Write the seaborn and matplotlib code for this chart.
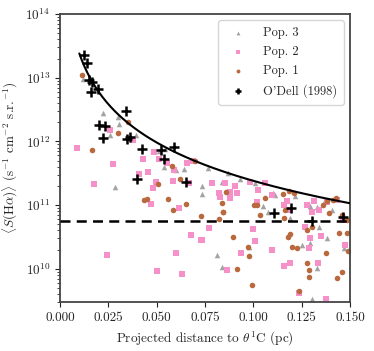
import numpy as np
import pandas as pd
import matplotlib
matplotlib.use("Agg")
import matplotlib.pyplot as plt
import seaborn as sns

# --- data (x in pc, S(Halpha) in s^-1 cm^-2 sr^-1) ---
pop3_x = [0.0117, 0.0221, 0.0259, 0.0300, 0.0305, 0.0286, 0.0393, 0.0538, 0.0598, 0.0514,
          0.0767, 0.0733, 0.0733, 0.0871, 0.0931, 0.0836, 0.1052, 0.1078, 0.1103, 0.1112,
          0.1190, 0.1216, 0.1293, 0.1328, 0.1371, 0.1405, 0.1469, 0.1340, 0.1379, 0.1293,
          0.1328, 0.0979, 0.0814, 0.0836, 0.1302, 0.1253, 0.1009, 0.0640, 0.0545]
pop3_y = [9.4e12, 2.8e12, 1.24e12, 2.4e12, 1.87e12, 1.94e11, 1.26e12, 4.0e11, 3.55e11, 7.1e11,
          3.77e11, 1.99e11, 1.47e11, 3.14e11, 2.53e11, 2.32e11, 9.7e10, 7.9e10, 1.52e11, 1.44e11,
          6.2e10, 1.38e11, 9.7e10, 9.4e10, 1.2e11, 8.3e10, 2.1e10, 4.6e10, 3.0e10, 2.5e10,
          1.01e10, 2.2e10, 1.64e10, 1.07e10, 3.4e9, 2.35e10, 2.2e11, 3.7e11, 7.5e11]

pop2_x = [0.0086, 0.0178, 0.0241, 0.0272, 0.0260, 0.0378, 0.0409, 0.0431, 0.0457, 0.0471,
          0.0483, 0.0486, 0.0495, 0.0500, 0.0512, 0.0555, 0.0585, 0.0588, 0.0598, 0.0616,
          0.0633, 0.0659, 0.0669, 0.0678, 0.0731, 0.0690, 0.0784, 0.0824, 0.0828, 0.0853,
          0.0879, 0.0881, 0.0905, 0.0914, 0.0983, 0.1060, 0.1017, 0.1095, 0.1159, 0.1172,
          0.1190, 0.1276, 0.1314, 0.1302, 0.1341, 0.1383, 0.1431, 0.1466, 0.1474, 0.0771,
          0.0733, 0.0997, 0.1009, 0.1098, 0.0936, 0.0862, 0.1159, 0.1190, 0.1293, 0.1288,
          0.1350, 0.1336, 0.1267, 0.1376, 0.1236, 0.1026]
pop2_y = [7.96e11, 2.11e11, 1.62e10, 4.4e11, 1.5e12, 1.05e12, 3.03e11, 5.35e11, 3.3e11, 1.04e11,
          1.83e11, 6.9e11, 2.32e11, 9.3e9, 5.3e11, 4.5e11, 2.41e11, 3.55e11, 1.74e10, 9.0e10,
          8.2e9, 4.5e11, 2.19e11, 3.34e10, 2.82e10, 4.97e11, 2.19e11, 1.56e11, 1.35e11, 2.24e11,
          1.62e11, 1.27e11, 1.99e11, 1.52e11, 2.32e11, 2.19e11, 1.13e11, 1.44e11, 1.0e11, 1.17e11,
          8.3e10, 1.0e11, 1.17e11, 7.9e10, 8.3e10, 1.13e11, 1.2e11, 5.9e10, 2.35e10, 4.3e10,
          2.8e10, 4.15e10, 2.75e10, 2.0e10, 1.74e10, 9.5e9, 1.1e10, 1.24e10, 3.0e10, 2.08e10,
          3.26e10, 1.24e10, 4.6e10, 3.4e9, 4.2e9, 1.72e11]

pop1_x = [0.0116, 0.0164, 0.0300, 0.0350, 0.0505, 0.0436, 0.0448, 0.0557, 0.0583, 0.0579,
          0.0622, 0.0652, 0.0700, 0.0731, 0.0857, 0.0836, 0.0845, 0.0824, 0.1005, 0.1017,
          0.1034, 0.1060, 0.1164, 0.1155, 0.1186, 0.1210, 0.1159, 0.1181, 0.1190, 0.1198,
          0.1224, 0.1276, 0.1302, 0.1379, 0.1414, 0.1426, 0.1390, 0.1362, 0.1457, 0.1486,
          0.1445, 0.1483, 0.1491, 0.1378, 0.1431, 0.1457, 0.1288, 0.1276, 0.1288, 0.1236,
          0.0991, 0.0917, 0.0978, 0.0971, 0.0893, 0.0845]
pop1_y = [1.09e13, 7.3e11, 1.37e12, 2.0e12, 2.16e11, 1.2e11, 1.26e11, 1.26e11, 8.3e10, 4.1e11,
          2.6e11, 1.04e11, 4.97e11, 6.7e10, 1.62e11, 1.09e11, 7.9e10, 6.0e10, 1.01e11, 1.0e11,
          7.0e10, 1.27e11, 8.3e10, 1.47e11, 1.66e11, 1.56e11, 6.2e10, 3.2e10, 3.5e10, 2.16e10,
          2.08e10, 4.1e10, 4.6e10, 1.17e11, 1.2e11, 1.27e11, 7.6e10, 1.0e11, 7.1e10, 5.9e10,
          3.7e10, 3.7e10, 1.92e10, 1.74e10, 7.2e9, 9.0e9, 9.5e9, 1.21e10, 7.5e9, 4.4e9,
          5.5e9, 1.0e10, 1.58e10, 2.2e10, 3.1e10, 7.7e10]

odell_x = [0.0126, 0.0140, 0.0152, 0.0167, 0.0160, 0.0198, 0.0202, 0.0231, 0.0221, 0.0340,
           0.0348, 0.0362, 0.0426, 0.0397, 0.0522, 0.0590, 0.0538, 0.0650, 0.1107, 0.1197,
           0.1305, 0.1464]
odell_y = [2.27e13, 1.68e13, 9.2e12, 8.65e12, 5.9e12, 6.7e12, 1.83e12, 1.74e12, 1.14e12, 3.03e12,
           1.07e12, 1.17e12, 7.5e11, 2.53e11, 7.4e11, 8.05e11, 5.3e11, 2.32e11, 7.6e10, 9.1e10,
           5.6e10, 6.4e10]

# model curve S = norm / d^2 and background level
curve_norm = 2.4e9
curve_start = 0.010
background = 5.6e10

colors = {"Pop. 3": "#a3a3a3", "Pop. 2": "#f590c8", "Pop. 1": "#b8693e"}

sns.set_style("ticks")
plt.rcParams["font.family"] = ["serif"]
plt.rcParams["font.serif"] = ["cmr10", "DejaVu Serif"]
plt.rcParams["mathtext.fontset"] = "cm"
plt.rcParams["axes.formatter.use_mathtext"] = True
plt.rcParams["font.size"] = 9.5

fig = plt.figure(figsize=(3.74, 3.51), dpi=100)
ax = fig.add_axes([0.1604, 0.1396, 0.7754, 0.8205])

pops = [("Pop. 3", pop3_x, pop3_y, "^"),
        ("Pop. 2", pop2_x, pop2_y, "s"),
        ("Pop. 1", pop1_x, pop1_y, "o")]
for name, xs, ys, mk in pops:
    df = pd.DataFrame({"d": xs, "S": ys})
    sns.scatterplot(data=df, x="d", y="S", marker=mk, color=colors[name],
                    s=16, linewidth=0, label=name, ax=ax, zorder=2)

od = pd.DataFrame({"d": odell_x, "S": odell_y})
sns.scatterplot(data=od, x="d", y="S", marker="+", color="black", s=45,
                linewidth=1.8, label="O'Dell (1998)", ax=ax, zorder=4)

d = np.linspace(curve_start, 0.15, 200)
ax.plot(d, curve_norm / d**2, color="black", lw=1.5, zorder=3)
ax.axhline(background, color="black", lw=1.8, ls=(0, (4, 2.5)), zorder=3)

ax.set_yscale("log")
ax.set_xlim(0, 0.15)
ax.set_ylim(3e9, 1e14)
ax.set_xticks([0.0, 0.025, 0.05, 0.075, 0.1, 0.125, 0.15])
ax.set_xticklabels(["0.000", "0.025", "0.050", "0.075", "0.100", "0.125", "0.150"])
ax.set_yticks([1e10, 1e11, 1e12, 1e13, 1e14])
ax.set_xlabel(r"Projected distance to $\theta^1$C (pc)")
ax.set_ylabel(r"$\langle S(\mathrm{H}\alpha)\rangle$ (s$^{-1}$ cm$^{-2}$ s.r.$^{-1}$)")

for sp in ax.spines.values():
    sp.set_color("#444444")
    sp.set_linewidth(1.3)
ax.tick_params(direction="out", color="#222222")

leg = ax.legend(loc="upper right", frameon=True, fancybox=True, fontsize=9,
                handletextpad=1.0, borderpad=0.55, labelspacing=0.55,
                markerscale=0.7, handlelength=2.0, borderaxespad=0.5)
leg.get_frame().set_edgecolor("#cccccc")

fig.savefig("out.png", dpi=100)
